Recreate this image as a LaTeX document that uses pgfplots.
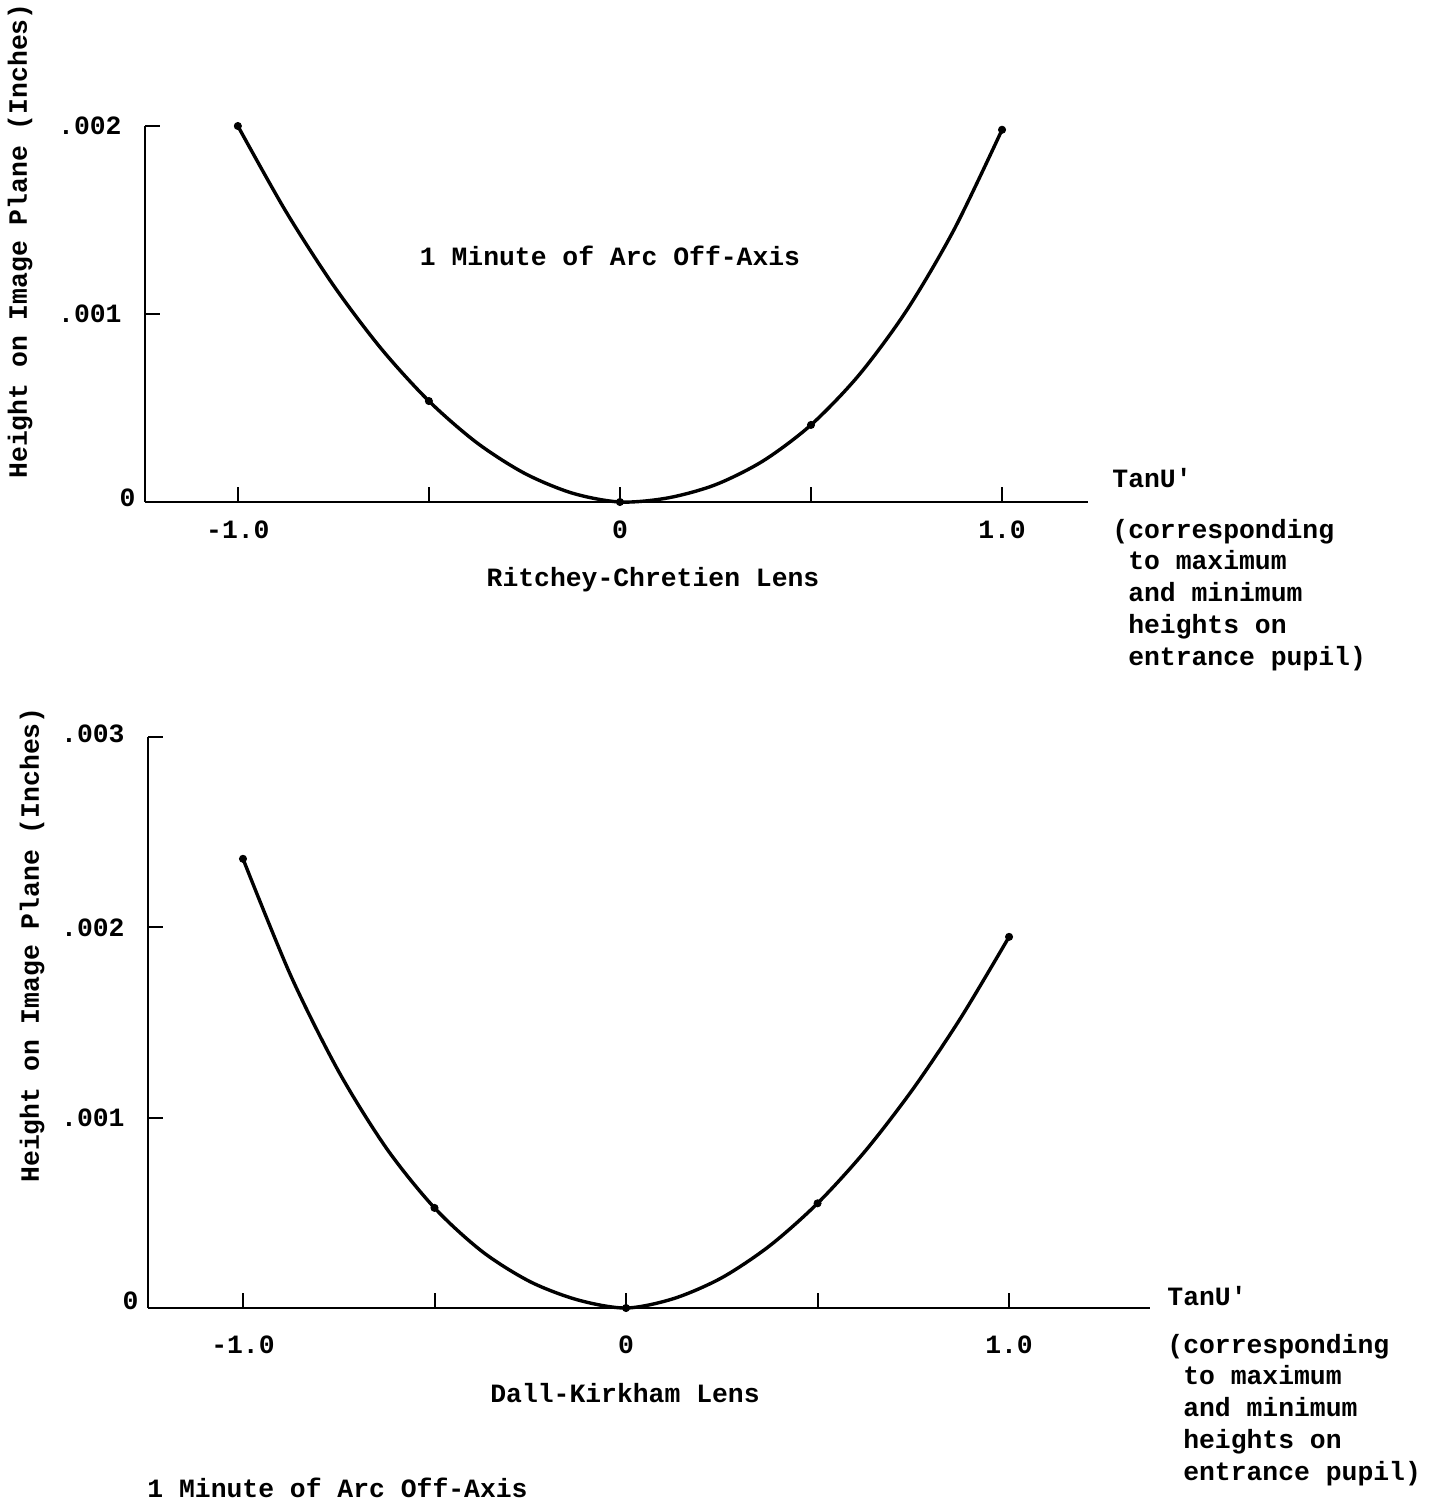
\documentclass[border=0pt]{standalone}
\usepackage{fontspec}
\setmainfont{Liberation Mono}[Ligatures=TeXOff]
\usepackage{pgfplots}
\pgfplotsset{compat=1.18}
\begin{document}
\fontsize{13.2}{15.9}\selectfont\bfseries
\begin{tikzpicture}
\path[use as bounding box] (0,0) rectangle (717.5pt,-751.5pt);
\pgfplotsset{
  myax/.style={
    scale only axis, anchor=south west,
    axis lines*=left, tick align=inside,
    axis line style={line width=1.2pt},
    major tick length=7.5pt,
    every tick/.style={black, line width=1pt},
    scaled y ticks=false, scaled x ticks=false,
    /pgf/number format/assume math mode=true,
    yticklabel style={anchor=east, inner sep=0pt, xshift=-11.5pt},
    xticklabel style={anchor=base, inner sep=0pt},
    xtick={-1,-0.5,0,0.5,1}, xticklabels={-1.0,,0,,1.0},
    clip=false,
  },
  curve/.style={smooth, line width=1.7pt, black, no marks},
  pts/.style={only marks, mark=*, mark size=1.8pt, black},
}
% ---------- top: Ritchey-Chretien ----------
\begin{axis}[myax,
  at={(72.5pt,-251pt)}, width=471.5pt, height=188pt,
  xmin=-1.243, xmax=1.225, ymin=0, ymax=0.002,
  ytick={0,0.001,0.002},
  yticklabels={\raisebox{4.5pt}{0}\hspace*{-7pt},.001,.002},
  xticklabel style={yshift=-18.4pt},
]
\addplot[curve] coordinates {
(-1.0,0.002) (-0.875,0.001548) (-0.75,0.001153) (-0.625,0.000816) (-0.5,0.000537)
(-0.375,0.000316) (-0.25,0.000153) (-0.125,0.0000474) (0,0)
(0.125,0.0000216) (0.25,0.0000919) (0.375,0.000219) (0.5,0.00041)
(0.625,0.000674) (0.75,0.001018) (0.875,0.001451) (1.0,0.00198)};
\addplot[pts] coordinates {(-1.0,0.002) (-0.5,0.000537) (0,0) (0.5,0.00041) (1.0,0.00198)};
\end{axis}
% ---------- bottom: Dall-Kirkham ----------
\begin{axis}[myax,
  at={(74pt,-654pt)}, width=501pt, height=285.5pt,
  xmin=-1.248, xmax=1.368, ymin=0, ymax=0.003,
  ytick={0,0.001,0.002,0.003},
  yticklabels={\raisebox{7.5pt}{0}\hspace*{-7pt},.001,.002,\raisebox{3.5pt}{.003}},
  xticklabel style={yshift=-22.9pt},
]
\addplot[curve] coordinates {
(-1.0,0.00236) (-0.875,0.001745) (-0.75,0.001242) (-0.625,0.000838) (-0.5,0.000526)
(-0.375,0.000296) (-0.25,0.000138) (-0.125,0.000042) (0,0)
(0.125,0.00005) (0.25,0.000159) (0.375,0.000327) (0.5,0.00055)
(0.625,0.000826) (0.75,0.001153) (0.875,0.001528) (1.0,0.00195)};
\addplot[pts] coordinates {(-1.0,0.00236) (-0.5,0.000526) (0,0) (0.5,0.00055) (1.0,0.00195)};
\end{axis}
% ---------- texts ----------
\node[rotate=90, inner sep=0pt] at (10pt,-120.5pt) {Height on Image Plane (Inches)};
\node[rotate=90, inner sep=0pt] at (16pt,-472.5pt) {Height on Image Plane (Inches)};
\node[anchor=base, inner sep=0pt] at (305pt,-132.5pt) {1 Minute of Arc Off-Axis};
\node[anchor=base west, inner sep=0pt] at (73.5pt,-748.5pt) {1 Minute of Arc Off-Axis};
\node[inner sep=0pt] at (326.5pt,-290pt) {Ritchey-Chretien Lens};
\node[inner sep=0pt] at (312.5pt,-696.5pt) {Dall-Kirkham Lens};
\node[anchor=west, inner sep=0pt] at (556pt,-239pt) {TanU'};
\node[anchor=west, inner sep=0pt] at (583.5pt,-648pt) {TanU'};
\node[anchor=base west, inner sep=0pt, align=left] at (556pt,-332.6pt)
  {(corresponding\\\phantom{(}to maximum\\\phantom{(}and minimum\\\phantom{(}heights on\\\phantom{(}entrance pupil)};
\node[anchor=base west, inner sep=0pt, align=left] at (583.5pt,-740.1pt)
  {(corresponding\\\phantom{(}to maximum\\\phantom{(}and minimum\\\phantom{(}heights on\\\phantom{(}entrance pupil)};
\end{tikzpicture}
\end{document}
